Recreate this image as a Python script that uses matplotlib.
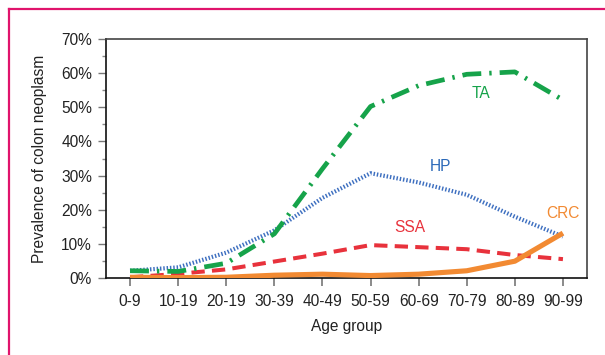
import matplotlib
matplotlib.use("Agg")
import matplotlib.pyplot as plt
from matplotlib.lines import Line2D
from matplotlib.ticker import MultipleLocator, FuncFormatter

plt.rcParams['font.family'] = ['Liberation Sans', 'DejaVu Sans']

age_groups = ["0-9", "10-19", "20-19", "30-39", "40-49", "50-59", "60-69", "70-79", "80-89", "90-99"]
ta = [2.2, 2.0, 4.4, 13.0, 32.0, 50.2, 56.3, 59.6, 60.3, 52.1]
hp = [2.2, 3.2, 7.5, 14.0, 23.5, 30.7, 28.0, 24.4, 18.0, 12.2]
ssa = [0.3, 1.3, 2.6, 4.9, 7.2, 9.7, 9.1, 8.5, 6.8, 5.6]
crc = [0.3, 0.2, 0.3, 0.9, 1.2, 0.8, 1.2, 2.2, 5.0, 13.2]

label_names = ["TA", "HP", "SSA", "CRC"]
label_x = [7.29, 6.45, 5.82, 9.01]
label_y = [54.1, 32.6, 14.8, 19.0]

c_ta = "#16a34a"
c_hp = "#3d6fc0"
c_ssa = "#e8323c"
c_crc = "#f28a32"
label_colors = [c_ta, "#2a68b8", c_ssa, c_crc]

FS = 11.2

fig = plt.figure(figsize=(6.05, 3.55), dpi=100)
ax = fig.add_axes([106/605, 1-278.3/355, (587-106)/605, (278.3-38.7)/355])

x = list(range(len(age_groups)))
ax.plot(x, crc, color=c_crc, lw=3.7, solid_capstyle='butt', zorder=3)
ax.plot(x, ssa, color=c_ssa, lw=2.9, linestyle=(0, (3.3, 1.8)), dash_capstyle='butt', zorder=2)
ax.plot(x, hp, color=c_hp, lw=3.0, linestyle=(0, (0.35, 0.45)), dash_capstyle='butt', zorder=2)
ax.plot(x, ta, color=c_ta, lw=3.4, linestyle=(0, (4.0, 1.7, 0.5, 1.7)), dash_capstyle='butt', zorder=2)

for name, lx, ly, lc in zip(label_names, label_x, label_y, label_colors):
    ax.text(lx, ly, name, color=lc, fontsize=FS, ha='center', va='center')

ax.set_xlim(-0.5, 9.5)
ax.set_ylim(0, 70)
ax.set_xticks(x)
ax.set_xticklabels(age_groups)
ax.yaxis.set_major_locator(MultipleLocator(10))
ax.yaxis.set_minor_locator(MultipleLocator(5))
ax.yaxis.set_major_formatter(FuncFormatter(lambda v, p: f"{int(round(v))}%"))

ax.tick_params(axis='both', which='major', labelsize=FS, labelcolor='#222222', color='#777777')
ax.tick_params(axis='y', which='major', length=6, width=1, pad=4)
ax.tick_params(axis='y', which='minor', length=3, width=1, color='#888888')
ax.tick_params(axis='x', which='major', length=5.5, width=1.2, pad=6)

for s in ['left', 'bottom']:
    ax.spines[s].set_color('#111111')
    ax.spines[s].set_linewidth(1.2)
for s in ['top', 'right']:
    ax.spines[s].set_color('#444444')
    ax.spines[s].set_linewidth(1.2)

ax.set_ylabel("Prevalence of colon neoplasm", fontsize=FS, color='#222222', labelpad=10)
ax.set_xlabel("Age group", fontsize=FS, color='#222222', labelpad=7)

pink = "#e0146c"
fig.add_artist(Line2D([8.5/605, 8.5/605], [0, 1-9/355], color=pink, lw=1.6, transform=fig.transFigure))
fig.add_artist(Line2D([8.5/605, 1], [1-9/355, 1-9/355], color=pink, lw=1.6, transform=fig.transFigure))

fig.savefig("out.png", dpi=100)
